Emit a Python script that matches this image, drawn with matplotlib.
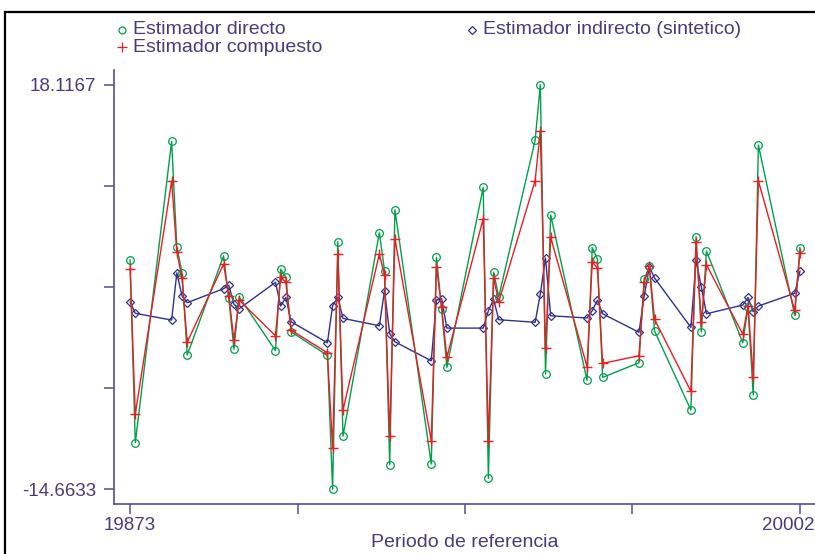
import matplotlib
matplotlib.use("Agg")
import matplotlib.pyplot as plt
from matplotlib.lines import Line2D
from matplotlib.patches import Rectangle
from matplotlib.transforms import ScaledTranslation

plt.rcParams['font.family'] = ['Liberation Sans', 'DejaVu Sans']

# periodo (año + trimestre)
periodos = [19873, 19874,
            19881, 19882, 19883, 19884,
            19891, 19892, 19893, 19894,
            19901, 19902, 19903, 19904,
            19911, 19912, 19913, 19914,
            19921, 19922, 19923, 19924,
            19931, 19932, 19933, 19934,
            19941, 19942, 19943, 19944,
            19951, 19952, 19953, 19954,
            19961, 19962, 19963, 19964,
            19971, 19972, 19973, 19974,
            19981, 19982, 19983, 19984,
            19991, 19992, 19993, 19994,
            20001, 20002]

directo = [3.91, -10.89,
           13.53, 4.99, 2.88, -3.78,
           4.24, 0.86, -3.32, 0.94,
           -3.43, 3.18, 2.51, -1.90,
           -3.81, -14.6633, 5.40, -10.35,
           6.13, 3.05, -12.67, 7.99,
           -12.61, 4.13, -0.08, -4.78,
           9.80, -13.77, 2.92, 0.94,
           13.61, 18.1167, -5.32, 7.56,
           -5.83, 4.91, 3.99, -5.59,
           -4.41, 2.37, 3.40, -1.84,
           -8.24, 5.80, -1.92, 4.64,
           -2.79, 0.11, -7.02, 13.23,
           -0.57, 4.91]

compuesto = [3.19, -8.56,
             10.32, 4.54, 2.48, -2.75,
             3.59, 1.02, -2.57, 0.67,
             -2.22, 2.51, 2.13, -1.76,
             -3.60, -11.34, 4.38, -8.24,
             4.40, 2.67, -10.35, 5.62,
             -10.73, 3.37, 0.08, -3.97,
             7.26, -10.75, 2.43, 0.54,
             10.34, 14.34, -3.24, 5.75,
             -4.73, 3.75, 3.27, -4.46,
             -3.84, 2.13, 3.40, -0.89,
             -6.72, 5.35, -1.13, 3.53,
             -2.11, 0.21, -5.54, 10.32,
             -0.16, 4.51]

indirecto = [0.51, -0.40,
             -0.95, 2.88, 1.00, 0.46,
             1.59, 1.87, 0.33, -0.03,
             2.11, 0.19, 0.89, -1.08,
             -2.79, 0.21, 0.89, -0.81,
             -1.41, 1.43, -2.06, -2.71,
             -4.25, 0.67, 0.78, -1.60,
             -1.60, -0.19, 0.73, -0.92,
             -1.13, 1.16, 4.08, -0.60,
             -0.78, -0.19, 0.65, -0.44,
             -1.94, 0.97, 3.37, 2.46,
             -1.54, 3.89, 1.75, -0.44,
             0.27, 0.88, -0.27, 0.19,
             1.22, 3.00]

y_ticks = [18.1167, 9.9217, 1.7267, -6.4683, -14.6633]
y_labels = ['18.1167', '', '', '', '-14.6633']
x_ticks = [19873, 19905.25, 19937.5, 19969.75, 20002]
x_labels = ['19873', '', '', '', '20002']

verde = '#00a04b'
rojo = '#ed1c24'
azul = '#2e3192'
morado = '#5a4a8e'
texto = '#4a3a7c'

W, H = 815, 554
fig = plt.figure(figsize=(W / 100, H / 100), dpi=100)
ax = fig.add_axes([114 / W, 50 / H, 701 / W, 434 / H])

ax.plot(periodos, indirecto, color=azul, lw=1.0, marker='D', ms=4.5,
        mfc='none', mec=azul, mew=0.9, zorder=2)
ax.plot(periodos, directo, color=verde, lw=1.0, marker='o', ms=5.5,
        mfc='none', mec=verde, mew=0.9, zorder=3)
ax.plot(periodos, compuesto, color=rojo, lw=1.0, marker='+', ms=7,
        mec=rojo, mew=1.0, zorder=4)

ax.set_xlim(19869.9, 20004.9)
ax.set_ylim(-15.85, 19.31)

for s in ['top', 'right']:
    ax.spines[s].set_visible(False)
for s in ['left', 'bottom']:
    ax.spines[s].set_color(morado)
    ax.spines[s].set_linewidth(1.2)

ax.set_yticks(y_ticks)
ax.set_yticklabels(y_labels)
ax.set_xticks(x_ticks)
ax.set_xticklabels(x_labels)
ax.tick_params(axis='both', colors=morado, labelcolor=texto, labelsize=13.5,
               length=7, width=1.1, direction='out')
ax.tick_params(axis='y', pad=6)
ax.tick_params(axis='x', pad=2)

# la ultima etiqueta se corre a la izquierda para que quepa
ultima = ax.get_xticklabels()[-1]
ultima.set_transform(ultima.get_transform() +
                     ScaledTranslation(-12 / 100, 0, fig.dpi_scale_trans))

ax.set_xlabel('Periodo de referencia', fontsize=14, color=texto, labelpad=0.5)

# leyenda
def entrada(xm, yp, marker, color, label, ms):
    fig.add_artist(Line2D([xm / W], [1 - yp / H], transform=fig.transFigure,
                          marker=marker, ms=ms, mfc='none', mec=color,
                          mew=0.9, ls='none'))
    fig.text((xm + 11) / W, 1 - yp / H, label, fontsize=14, color=texto,
             ha='left', va='center')

entrada(122, 30, 'o', verde, 'Estimador directo', 5)
entrada(122, 47, '+', rojo, 'Estimador compuesto', 7)
entrada(472, 30, 'D', azul, 'Estimador indirecto (sintetico)', 4)

# marco
fig.add_artist(Rectangle((5 / W, -0.05), 1.1, 1 - 12 / H + 0.05,
                         transform=fig.transFigure, fill=False,
                         edgecolor='black', lw=1.6))

fig.savefig('out.png', dpi=100)
